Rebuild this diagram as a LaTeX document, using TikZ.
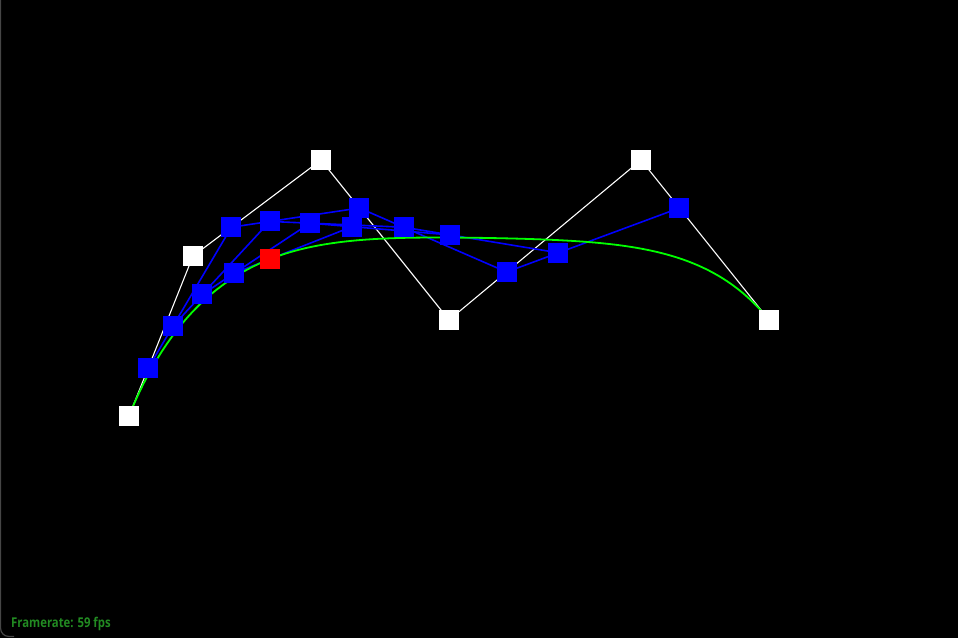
\documentclass[tikz,border=0pt]{standalone}
\usepackage{fontspec}
\newfontfamily\fpsfont[FakeStretch=0.84]{Open Sans}
\usetikzlibrary{calc}
\pgfdeclarelayer{bg}
\pgfdeclarelayer{lines}
\pgfsetlayers{bg,lines,main}
\definecolor{fpsgreen}{RGB}{34,139,34}
\definecolor{curvegreen}{RGB}{0,255,0}
\definecolor{edgegray}{RGB}{70,70,70}
\tikzset{
  sq/.style={minimum size=20pt, inner sep=0pt, outer sep=0pt, draw=none},
  ctrl/.style={sq, fill=white},
  lvl/.style={sq, fill=blue},
  cur/.style={sq, fill=red},
  ctrlline/.style={draw=white, line width=1.1pt},
  lvlline/.style={draw=blue, line width=1.6pt},
  curveline/.style={draw=curvegreen, line width=1.8pt},
}
\begin{document}
\begin{tikzpicture}[x=1pt,y=-1pt]
\useasboundingbox (0,0) rectangle (958,637);
\begin{pgfonlayer}{bg}
  \fill[black] (-3,-3) rectangle (961,640);
  \draw[edgegray, line width=1.2pt, rounded corners=8pt] (0.6,0) -- (0.6,636.4) -- (14,636.4);
\end{pgfonlayer}
% control points
\node[ctrl] (c0) at (129,416) {};
\node[ctrl] (c1) at (193,256) {};
\node[ctrl] (c2) at (321,160) {};
\node[ctrl] (c3) at (449,320) {};
\node[ctrl] (c4) at (641,160) {};
\node[ctrl] (c5) at (769,320) {};
% level 1
\node[lvl] (a0) at ($(c0)!0.3!(c1)$) {};
\node[lvl] (a1) at ($(c1)!0.3!(c2)$) {};
\node[lvl] (a2) at ($(c2)!0.3!(c3)$) {};
\node[lvl] (a3) at ($(c3)!0.3!(c4)$) {};
\node[lvl] (a4) at ($(c4)!0.3!(c5)$) {};
% level 2
\node[lvl] (b0) at ($(a0)!0.3!(a1)$) {};
\node[lvl] (b1) at ($(a1)!0.3!(a2)$) {};
\node[lvl] (b2) at ($(a2)!0.3!(a3)$) {};
\node[lvl] (b3) at ($(a3)!0.3!(a4)$) {};
% level 3
\node[lvl] (d0) at ($(b0)!0.3!(b1)$) {};
\node[lvl] (d1) at ($(b1)!0.3!(b2)$) {};
\node[lvl] (d2) at ($(b2)!0.3!(b3)$) {};
% level 4
\node[lvl] (e0) at ($(d0)!0.3!(d1)$) {};
\node[lvl] (e1) at ($(d1)!0.3!(d2)$) {};
% curve point
\node[cur] (r) at ($(e0)!0.3!(e1)$) {};
\begin{pgfonlayer}{lines}
  \draw[ctrlline] (c0.center) -- (c1.center) -- (c2.center) -- (c3.center) -- (c4.center) -- (c5.center);
  \draw[lvlline] (a0.center) -- (a1.center) -- (a2.center) -- (a3.center) -- (a4.center);
  \draw[lvlline] (b0.center) -- (b1.center) -- (b2.center) -- (b3.center);
  \draw[lvlline] (d0.center) -- (d1.center) -- (d2.center);
  \draw[lvlline] (e0.center) -- (e1.center);
  \draw[curveline] plot[domain=0:1, samples=150, variable=\t, smooth]
   ({129*(1-\t)*(1-\t)*(1-\t)*(1-\t)*(1-\t) + 5*193*\t*(1-\t)*(1-\t)*(1-\t)*(1-\t) + 10*321*\t*\t*(1-\t)*(1-\t)*(1-\t) + 10*449*\t*\t*\t*(1-\t)*(1-\t) + 5*641*\t*\t*\t*\t*(1-\t) + 769*\t*\t*\t*\t*\t},
    {416*(1-\t)*(1-\t)*(1-\t)*(1-\t)*(1-\t) + 5*256*\t*(1-\t)*(1-\t)*(1-\t)*(1-\t) + 10*160*\t*\t*(1-\t)*(1-\t)*(1-\t) + 10*320*\t*\t*\t*(1-\t)*(1-\t) + 5*160*\t*\t*\t*\t*(1-\t) + 320*\t*\t*\t*\t*\t});
\end{pgfonlayer}
\node[anchor=base west, inner sep=0pt, text=fpsgreen, font=\fpsfont\bfseries\fontsize{13.5}{15}\selectfont] (fps) at (11,627) {Framerate: 59 fps};
\end{tikzpicture}
\end{document}
